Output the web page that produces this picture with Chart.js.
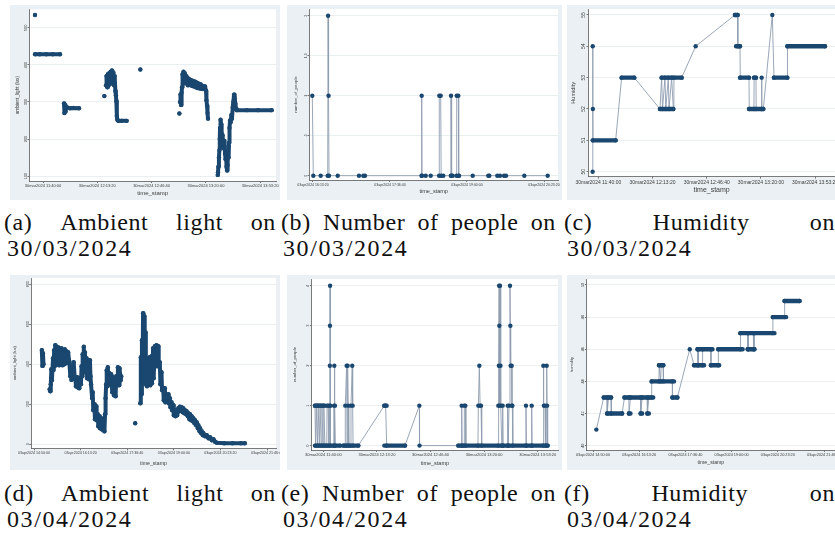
<!DOCTYPE html>
<html>
<head>
<meta charset="utf-8">
<script src="https://cdn.jsdelivr.net/npm/chart.js@4.4.0/dist/chart.umd.min.js"></script>
<style>
  html, body { margin: 0; padding: 0; background: #fff; }
  #page { position: relative; width: 835px; height: 543px; overflow: hidden; }
  canvas { position: absolute; }
  .cap { position: absolute; display: flex; justify-content: space-between; white-space: nowrap;
         font-family: 'Liberation Serif', 'DejaVu Serif', serif; font-size: 24px; line-height: 26px;
         letter-spacing: 0.6px; color: #111; }
  .date { position: absolute; white-space: nowrap; letter-spacing: 1.6px;
          font-family: 'Liberation Serif', 'DejaVu Serif', serif; font-size: 24px; line-height: 26px; color: #111; }
</style>
</head>
<body>
<div id="page">
  <canvas id="pa" width="270" height="195" style="left:10px;top:5px"></canvas>
  <canvas id="pb" width="275" height="195" style="left:287px;top:5px"></canvas>
  <canvas id="pc" width="268" height="195" style="left:567px;top:5px"></canvas>
  <canvas id="pd" width="270" height="195" style="left:10px;top:275px"></canvas>
  <canvas id="pe" width="275" height="195" style="left:287px;top:275px"></canvas>
  <canvas id="pf" width="268" height="195" style="left:567px;top:275px"></canvas>

  <div class="cap" style="left:4px;top:209px;width:272px"><span>(a)</span><span>Ambient</span><span>light</span><span>on</span></div>
  <div class="date" style="left:7px;top:235px">30/03/2024</div>
  <div class="cap" style="left:281px;top:209px;width:275px"><span>(b)</span><span>Number</span><span>of</span><span>people</span><span>on</span></div>
  <div class="date" style="left:283px;top:235px">30/03/2024</div>
  <div class="cap" style="left:564px;top:209px;width:271px"><span>(c)</span><span>Humidity</span><span>on</span></div>
  <div class="date" style="left:567px;top:235px">30/03/2024</div>

  <div class="cap" style="left:4px;top:480px;width:272px"><span>(d)</span><span>Ambient</span><span>light</span><span>on</span></div>
  <div class="date" style="left:7px;top:506px">03/04/2024</div>
  <div class="cap" style="left:281px;top:480px;width:275px"><span>(e)</span><span>Number</span><span>of</span><span>people</span><span>on</span></div>
  <div class="date" style="left:283px;top:506px">03/04/2024</div>
  <div class="cap" style="left:564px;top:480px;width:271px"><span>(f)</span><span>Humidity</span><span>on</span></div>
  <div class="date" style="left:567px;top:506px">03/04/2024</div>
</div>
<script>
// ── Tick labels ──────────────────────────────────────────────────────────────
const ticksMar = ['11:40:00', '12:13:20', '12:46:40', '13:20:00', '13:53:20'];
const ticksAprB = ['16:13:20', '17:36:40', '19:00:00', '20:23:20'];
const ticksApr = ['14:50:00', '16:13:20', '17:36:40', '19:00:00', '20:23:20', '21:46:40'];
const yTicksA = [100, 200, 300, 400, 500];
const yTicksB = [0, 0.5, 1, 1.5, 2];
const yTicksC = [50, 51, 52, 53, 54, 55];
const yTicksD = [0, 200, 400, 600, 800];
const yTicksE = [0, 1, 2, 3, 4];
const yTicksF = [40, 42, 44, 46, 48, 50];

// ── (a) ambient light, 30 Mar (null = gap between bursts) ────────────────────
const lightA = [
  ['11:35:05', 535], ['11:35:06', null],
  ['11:35:07', 429], ['11:38:00', 429], ['11:42:00', 429], ['11:46:00', 429], ['11:50:26', 429], ['11:51:00', null],
  ['11:52:54', 296], ['11:53:10', 270], ['11:53:30', 292], ['11:53:50', 274], ['11:54:07', 284], ['11:54:32', 286],
  ['11:56:35', 283], ['11:58:37', 284], ['12:02:06', 283], ['12:03:00', null],
  ['12:17:40', 316], ['12:18:00', null],
  ['12:18:41', 345], ['12:19:00', 370], ['12:19:30', 340], ['12:19:50', 375], ['12:20:19', 345], ['12:20:40', 378],
  ['12:21:08', 350], ['12:21:30', 382], ['12:21:57', 355], ['12:22:20', 385], ['12:22:46', 350], ['12:23:10', 380],
  ['12:23:36', 345], ['12:24:00', 370], ['12:24:25', 330], ['12:24:45', 318], ['12:25:02', 302], ['12:25:20', 262],
  ['12:25:38', 252], ['12:26:15', 249], ['12:28:18', 249], ['12:31:22', 249], ['12:32:00', null],
  ['12:39:46', 388], ['12:40:00', null],
  ['13:03:43', 269], ['13:03:55', null],
  ['13:04:07', 300], ['13:04:25', 320], ['13:04:44', 292], ['13:05:05', 325], ['13:05:21', 340], ['13:05:40', 375],
  ['13:05:58', 350], ['13:06:15', 382], ['13:06:35', 360], ['13:07:00', 378], ['13:07:12', 352], ['13:07:48', 370],
  ['13:08:10', 350], ['13:08:37', 365], ['13:09:00', 345], ['13:09:26', 362], ['13:09:50', 348], ['13:10:15', 360],
  ['13:10:45', 345], ['13:11:17', 358], ['13:11:45', 343], ['13:12:18', 356], ['13:12:50', 342], ['13:13:20', 355],
  ['13:13:50', 340], ['13:14:21', 352], ['13:14:50', 338], ['13:15:22', 350], ['13:15:50', 337], ['13:16:24', 348],
  ['13:16:55', 336], ['13:17:25', 345], ['13:17:55', 335], ['13:18:26', 343], ['13:19:00', 337], ['13:19:28', 342],
  ['13:20:05', 330], ['13:20:20', 305], ['13:20:42', 290], ['13:21:00', 270], ['13:21:18', 255], ['13:22:00', null],
  ['13:27:15', 103], ['13:27:25', 110], ['13:27:40', 125], ['13:28:00', 150], ['13:28:17', 170], ['13:28:30', 200],
  ['13:28:41', 230], ['13:29:00', 252], ['13:29:18', 240], ['13:29:40', 215], ['13:29:55', 200], ['13:30:15', 210],
  ['13:30:32', 190], ['13:30:50', 175], ['13:31:08', 195], ['13:31:30', 180], ['13:31:45', 160], ['13:32:05', 145],
  ['13:32:22', 160], ['13:32:40', 125], ['13:32:59', 115], ['13:33:20', 130], ['13:33:36', 165], ['13:33:55', 150],
  ['13:34:13', 190], ['13:34:30', 230], ['13:34:49', 250], ['13:35:10', 245], ['13:35:39', 265], ['13:36:00', 255],
  ['13:36:28', 285], ['13:36:50', 300], ['13:37:17', 320], ['13:37:40', 310], ['13:38:06', 295], ['13:38:30', 282],
  ['13:38:55', 278], ['13:45:00', 278], ['13:52:00', 278], ['14:00:24', 278]
];

// ── (b) number of people ─────────────────────────────────────────────────────
const peopleB = [
  ['16:12:35', 1], ['16:13:40', 0], ['16:21:40', 0], ['16:29:15', 0], ['16:29:40', 2], ['16:30:10', 1], ['16:30:40', 0],
  ['16:40:05', 0], ['17:03:07', 0], ['17:07:48', 0], ['17:09:37', 0], ['18:10:45', 0], ['18:10:58', 1], ['18:11:20', 0],
  ['18:15:18', 0], ['18:20:43', 0], ['18:29:50', 0], ['18:30:01', 1], ['18:31:32', 1], ['18:32:00', 0], ['18:34:21', 0],
  ['18:42:30', 0], ['18:42:42', 1], ['18:43:20', 0], ['18:44:31', 0], ['18:48:40', 0], ['18:48:51', 1], ['18:50:35', 1],
  ['18:51:00', 0], ['18:51:21', 0], ['19:06:10', 0], ['19:23:04', 0], ['19:24:09', 0], ['19:32:48', 0], ['19:35:43', 0],
  ['19:40:03', 0], ['19:42:12', 0], ['20:02:02', 0], ['20:27:19', 0]
];

// ── (c) humidity, 30 Mar: readings + dense runs [start, end, value] ──────────
const humidC = [
  ['11:36:31', 50], ['11:36:35', 54], ['11:36:40', 52], ['11:36:45', 51], ['11:50:40', 51], ['11:54:21', 53],
  ['12:02:08', 53], ['12:17:56', 52], ['12:18:57', 53], ['12:19:30', 52], ['12:21:00', 53], ['12:21:30', 52],
  ['12:23:03', 53], ['12:23:30', 52], ['12:25:06', 53], ['12:26:08', 52], ['12:26:30', 53], ['12:31:15', 53],
  ['12:39:52', 54], ['13:04:03', 55], ['13:05:41', 55], ['13:05:50', 54], ['13:07:08', 54], ['13:07:20', 53],
  ['13:12:40', 53], ['13:12:50', 52], ['13:15:44', 52], ['13:15:50', 53], ['13:16:58', 53], ['13:17:05', 52],
  ['13:20:10', 52], ['13:20:27', 53], ['13:20:35', 52], ['13:21:29', 52], ['13:27:01', 55], ['13:28:02', 53],
  ['13:36:14', 53], ['13:36:20', 54], ['13:59:24', 54]
];
const humidC_runs = [
  ['11:36:31', '11:50:40', 51], ['11:54:21', '12:02:08', 53], ['12:17:56', '12:26:08', 52], ['12:18:57', '12:31:15', 53],
  ['13:04:03', '13:05:41', 55], ['13:04:40', '13:07:08', 54], ['13:07:08', '13:12:40', 53], ['13:12:40', '13:21:29', 52],
  ['13:15:44', '13:16:58', 53], ['13:28:02', '13:36:14', 53], ['13:36:14', '13:59:24', 54]
];

// ── (d) ambient light, 03 Apr ────────────────────────────────────────────────
const lightD = [
  ['15:04', 471], ['15:05', 392], ['15:06', 455], ['15:07', 400], ['15:10', null],
  ['15:18', 275], ['15:19', 265], ['15:20', 300], ['15:21', 375], ['15:22', 320], ['15:24', 430], ['15:25', 372],
  ['15:26', 470], ['15:27', 390], ['15:28', 495], ['15:29', 410], ['15:30', 480], ['15:32', 400], ['15:33', 485],
  ['15:35', 395], ['15:36', 475], ['15:38', 405], ['15:39', 480], ['15:41', 395], ['15:42', 470], ['15:44', 400],
  ['15:45', 475], ['15:47', 405], ['15:48', 465], ['15:50', 420], ['15:51', 460], ['15:53', 415],
  ['15:55', 340], ['15:56', 370], ['15:57', 322], ['15:59', 395], ['16:00', 335], ['16:01', 410], ['16:03', 325],
  ['16:04', 330], ['16:05', 290], ['16:07', 335], ['16:08', 285], ['16:10', 330], ['16:11', 280], ['16:13', 320],
  ['16:14', 300], ['16:15', 390], ['16:16', 340], ['16:17', 450], ['16:18', 380], ['16:19', 488], ['16:20', 400],
  ['16:21', 460], ['16:22', 360], ['16:24', 430], ['16:25', 330], ['16:27', 410], ['16:28', 325], ['16:30', 420],
  ['16:31', 340], ['16:32', 300], ['16:34', 230], ['16:35', 260], ['16:36', 170], ['16:38', 200], ['16:39', 125],
  ['16:41', 190], ['16:42', 120], ['16:44', 150], ['16:45', 90], ['16:47', 140], ['16:48', 80], ['16:50', 130],
  ['16:51', 75], ['16:53', 120], ['16:54', 70], ['16:56', 65], ['16:57', 150], ['16:58', 230], ['16:59', 300],
  ['17:00', 370], ['17:01', 290], ['17:02', 385], ['17:04', 300], ['17:05', 355], ['17:07', 300], ['17:08', 350],
  ['17:10', 260], ['17:11', 335], ['17:13', 245], ['17:14', 320], ['17:16', 240], ['17:17', 340], ['17:19', 300],
  ['17:20', 385], ['17:22', 295], ['17:23', 380], ['17:25', 320], ['17:26', 340], ['17:35', null],
  ['17:51', 105], ['17:55', null],
  ['18:00', 205], ['18:01', 435], ['18:02', 250], ['18:03', 520], ['18:04', 330], ['18:05', 655], ['18:06', 380],
  ['18:07', 640], ['18:08', 450], ['18:09', 560], ['18:10', 300], ['18:11', 430], ['18:12', 290], ['18:14', 420],
  ['18:15', 300], ['18:17', 435], ['18:18', 295], ['18:20', 440], ['18:21', 305], ['18:23', 480], ['18:24', 330],
  ['18:26', 490], ['18:27', 395], ['18:29', 495], ['18:30', 390], ['18:32', 490], ['18:33', 400], ['18:35', 410],
  ['18:36', 300], ['18:38', 360], ['18:39', 270], ['18:41', 280], ['18:42', 220], ['18:44', 280], ['18:45', 210],
  ['18:47', 240], ['18:48', 215], ['18:50', 250], ['18:51', 205], ['18:53', 230], ['18:54', 185], ['18:56', 210],
  ['18:57', 170], ['18:59', 195], ['19:00', 145], ['19:02', 170], ['19:03', 140], ['19:05', 165], ['19:06', 145],
  ['19:08', 180], ['19:10', 165], ['19:11', 188], ['19:13', 168], ['19:14', 185], ['19:16', 160], ['19:17', 180],
  ['19:19', 155], ['19:20', 170], ['19:22', 150], ['19:23', 165], ['19:25', 140], ['19:26', 155], ['19:28', 125],
  ['19:29', 150], ['19:31', 120], ['19:32', 140], ['19:34', 115], ['19:35', 130], ['19:37', 105], ['19:38', 120],
  ['19:40', 95], ['19:41', 110], ['19:43', 80], ['19:44', 95], ['19:46', 65], ['19:47', 80], ['19:49', 55],
  ['19:50', 65], ['19:52', 45], ['19:53', 55], ['19:56', 40], ['19:59', 45], ['20:02', 30], ['20:05', 35],
  ['20:08', 20], ['20:11', 25], ['20:14', 12], ['20:17', 8], ['20:30', 5], ['20:45', 5], ['21:00', 5], ['21:07', 5]
];

// ── (e) number of people ─────────────────────────────────────────────────────
const peopleE = [
  ['11:34:49', 1], ['11:35:10', 0], ['11:35:40', 1], ['11:36:20', 0], ['11:36:50', 1], ['11:37:30', 0], ['11:38:00', 1],
  ['11:38:40', 0], ['11:39:10', 1], ['11:39:50', 0], ['11:40:20', 1], ['11:41:00', 0],
  ['11:42:10', 0], ['11:42:20', 1], ['11:43:00', 1], ['11:43:31', 0], ['11:44:00', 1], ['11:44:05', 2], ['11:44:09', 3],
  ['11:44:13', 4], ['11:44:20', 1], ['11:44:30', 0], ['11:46:30', 0], ['11:46:40', 1], ['11:46:51', 2], ['11:47:00', 0],
  ['11:47:15', 1], ['11:47:30', 0], ['11:50:22', 0], ['11:52:26', 0], ['11:53:30', 0], ['11:53:40', 1], ['11:54:31', 2],
  ['11:54:45', 0], ['11:55:08', 2], ['11:55:30', 1], ['11:55:50', 0], ['11:57:00', 0], ['11:57:13', 1], ['11:58:00', 2],
  ['11:58:15', 1], ['11:58:30', 0], ['12:01:46', 0],
  ['12:17:57', 1], ['12:18:47', 1], ['12:19:24', 0], ['12:30:48', 0], ['12:39:43', 1], ['12:39:50', 0],
  ['13:03:58', 0], ['13:05:50', 0], ['13:06:03', 1], ['13:06:20', 0], ['13:07:30', 0], ['13:07:42', 1], ['13:08:19', 1],
  ['13:08:40', 0], ['13:16:10', 0], ['13:16:25', 1], ['13:17:02', 2], ['13:17:30', 1], ['13:18:04', 1], ['13:18:30', 0],
  ['13:28:40', 0], ['13:28:51', 1], ['13:29:10', 2], ['13:29:20', 4], ['13:29:28', 3], ['13:29:40', 1], ['13:29:53', 4],
  ['13:30:10', 2], ['13:30:30', 1], ['13:31:00', 0], ['13:31:25', 0], ['13:31:33', 1], ['13:31:50', 0],
  ['13:34:30', 0], ['13:34:39', 1], ['13:35:00', 0], ['13:35:20', 0], ['13:35:29', 1], ['13:36:06', 4], ['13:36:20', 3],
  ['13:36:31', 2], ['13:37:09', 2], ['13:37:20', 1], ['13:37:33', 1], ['13:37:50', 0], ['13:45:50', 0], ['13:46:03', 1],
  ['13:46:20', 0], ['13:49:25', 0], ['13:49:35', 1], ['13:49:50', 0], ['13:56:40', 0], ['13:56:50', 2], ['13:57:10', 1],
  ['13:57:52', 1], ['13:58:10', 0], ['13:58:45', 0], ['13:58:55', 2], ['13:59:10', 1], ['13:59:30', 0]
];
const peopleE_runs = [
  ['11:34:49', '11:50:22', 0], ['11:52:26', '12:01:46', 0], ['12:17:57', '12:30:48', 0], ['13:03:58', '13:59:30', 0],
  ['11:34:49', '11:41:00', 1], ['12:17:57', '12:19:24', 1]
];

// ── (f) humidity, 03 Apr ─────────────────────────────────────────────────────
const humidF = [
  ['14:56:02', 41], ['15:09:19', 43], ['15:15:22', 43], ['15:15:40', 42], ['15:18:00', 43], ['15:22:36', 43],
  ['15:23:00', 42], ['15:42:32', 42], ['15:46:46', 43], ['15:54:37', 43], ['15:55:00', 42], ['15:57:38', 43],
  ['16:15:45', 43], ['16:16:10', 42], ['16:18:46', 43], ['16:27:49', 43], ['16:28:10', 42], ['16:30:50', 43],
  ['16:35:40', 43], ['16:35:50', 44], ['16:48:57', 44], ['16:49:20', 45], ['16:52:00', 44], ['16:53:00', 45],
  ['16:56:48', 45], ['16:57:00', 44], ['17:13:07', 44], ['17:13:20', 43], ['17:22:10', 43], ['17:44:30', 46],
  ['17:52:21', 45], ['17:58:24', 45], ['17:58:40', 46], ['17:59:36', 46], ['18:00:00', 45], ['18:07:27', 45],
  ['18:07:40', 46], ['18:22:33', 46], ['18:22:50', 45], ['18:35:50', 45], ['18:36:05', 46], ['19:15:41', 46],
  ['19:16:00', 47], ['19:28:58', 47], ['19:29:10', 46], ['19:30:11', 46], ['19:30:30', 47], ['19:39:14', 47],
  ['19:39:30', 46], ['19:41:03', 46], ['19:41:20', 47], ['20:14:15', 47], ['20:14:30', 48], ['20:35:24', 48],
  ['20:35:40', 49], ['21:02:34', 49]
];
const humidF_runs = [
  ['15:09:19', '15:22:36', 43], ['15:15:22', '15:42:32', 42], ['15:46:46', '16:38:41', 43], ['15:54:37', '15:57:38', 42],
  ['16:15:45', '16:18:46', 42], ['16:27:49', '16:30:50', 42], ['16:35:40', '17:16:08', 44], ['16:48:57', '16:56:48', 45],
  ['17:13:07', '17:22:10', 43], ['17:52:21', '18:10:28', 45], ['17:58:24', '18:25:34', 46], ['18:22:33', '18:37:38', 45],
  ['18:35:50', '19:19:55', 46], ['19:15:41', '20:17:17', 47], ['19:28:58', '19:41:03', 46], ['20:14:15', '20:38:25', 48],
  ['20:35:24', '21:02:34', 49]
];

// ── Style ────────────────────────────────────────────────────────────────────
const FONT = "'Liberation Sans', Arial, sans-serif";
const NAVY = '#1a476f';
const LINK = '#8e9db0';
const INK = '#3c3c3c';
const AXIS = '#5a5a5a';
const GRAPH_BG = '#eaf0f3';

// ── Helpers ──────────────────────────────────────────────────────────────────
function sec(s) {
  const p = s.split(':').map(Number);
  return p[0] * 3600 + p[1] * 60 + (p[2] || 0);
}
function hms(v) {
  const pad = n => String(n).padStart(2, '0');
  return pad(Math.floor(v / 3600)) + ':' + pad(Math.floor((v % 3600) / 60)) + ':' + pad(Math.round(v % 60));
}
const fmtY = v => String(v).replace(/^0\./, '.');
const toPts = pairs => pairs.map(([t, v]) => ({ x: sec(t), y: v }));
const runPts = runs => runs.flatMap(([s, e, v]) => [{ x: sec(s), y: v }, { x: sec(e), y: v }, { x: sec(e), y: null }]);

function scatterBand(pairs) {
  return { data: toPts(pairs), showLine: true, borderColor: NAVY, borderWidth: 4, borderCapStyle: 'round',
           borderJoinStyle: 'round', pointRadius: 2.2, pointBackgroundColor: NAVY, pointBorderWidth: 0 };
}
function trace(pairs) {
  return { data: toPts(pairs), showLine: true, borderColor: LINK, borderWidth: 0.9,
           pointRadius: 2.2, pointBackgroundColor: NAVY, pointBorderWidth: 0 };
}
function runBand(runs) {
  return { data: runPts(runs), showLine: true, borderColor: NAVY, borderWidth: 4.4, borderCapStyle: 'round', pointRadius: 0 };
}

// graph region grey, plot region white
const panelBg = {
  id: 'panelBg',
  beforeDraw(chart) {
    const { ctx, chartArea: a } = chart;
    ctx.save();
    ctx.fillStyle = GRAPH_BG;
    ctx.fillRect(0, 0, chart.width, chart.height);
    ctx.fillStyle = '#fff';
    ctx.fillRect(a.left, a.top, a.right - a.left, a.bottom - a.top);
    ctx.restore();
  }
};

// Stata prints y tick labels turned sideways
const rotatedYLabels = {
  id: 'rotatedYLabels',
  afterDraw(chart, args, o) {
    const s = chart.scales.y, ctx = chart.ctx;
    ctx.save();
    ctx.font = o.size + 'px ' + FONT;
    ctx.fillStyle = INK;
    ctx.textAlign = 'center';
    ctx.textBaseline = 'middle';
    s.ticks.forEach(t => {
      ctx.save();
      ctx.translate(s.right - o.offset, s.getPixelForValue(t.value));
      ctx.rotate(-Math.PI / 2);
      ctx.fillText(fmtY(t.value), 0, 0);
      ctx.restore();
    });
    ctx.restore();
  }
};

// g: canvas box + plot box (page px); f: font sizes / title offsets
function makePanel(id, g, f, cfg) {
  const [pl, pt, pr, pb] = g.plot;
  const yw = pl - g.left, xh = g.top + g.h - pb;
  new Chart(document.getElementById(id), {
    type: 'scatter',
    data: { datasets: cfg.datasets },
    options: {
      responsive: false,
      animation: false,
      events: [],
      layout: { autoPadding: false, padding: { top: pt - g.top, right: g.left + g.w - pr, left: 0, bottom: 0 } },
      plugins: { legend: { display: false }, tooltip: { enabled: false },
                 rotatedYLabels: { size: f.tick, offset: f.yLab } },
      scales: {
        x: {
          type: 'linear', bounds: 'data', min: sec(cfg.xMin), max: sec(cfg.xMax),
          afterBuildTicks: s => { s.ticks = cfg.xTicks.map(t => ({ value: sec(t) })); },
          afterFit: s => { s.height = xh; s.paddingLeft = 0; s.paddingRight = 0; },
          ticks: { callback: v => cfg.prefix + ' ' + hms(v), font: { size: f.tick, family: FONT }, color: INK,
                   padding: 0.5, maxRotation: 0, minRotation: 0, autoSkip: false },
          grid: { drawOnChartArea: false, drawTicks: true, tickLength: 2, tickColor: AXIS, tickWidth: 0.8 },
          border: { display: true, color: AXIS, width: 0.8 },
          title: { display: true, text: 'time_stamp', color: INK, font: { size: f.xt, family: FONT },
                   padding: { top: 0, bottom: f.xtB - 0.6 * f.xt } }
        },
        y: {
          type: 'linear', bounds: 'data', min: cfg.yMin, max: cfg.yMax,
          afterBuildTicks: s => { s.ticks = cfg.yTicks.map(v => ({ value: v })); },
          afterFit: s => { s.width = yw; s.paddingTop = 0; s.paddingBottom = 0; },
          ticks: { display: false },
          grid: { color: '#e4ebef', lineWidth: 0.8, drawTicks: true, tickLength: 1.8, tickColor: AXIS, tickWidth: 0.8 },
          border: { display: true, color: AXIS, width: 0.8 },
          title: { display: true, text: cfg.yTitle, color: INK, font: { size: f.yt, family: FONT },
                   padding: { top: f.ytL - 0.6 * f.yt, bottom: 0 } }
        }
      }
    },
    plugins: [panelBg, rotatedYLabels]
  });
}

makePanel('pa', { left: 10, top: 5, w: 270, h: 195, plot: [29.3, 9.3, 276, 181] },
  { tick: 4, xt: 6, xtB: 6.7, yt: 4.7, ytL: 7.3, yLab: 3.6 },
  { datasets: [scatterBand(lightA)], xTicks: ticksMar, prefix: '30mar2024', xMin: '11:31:35', xMax: '14:03:02',
    yTicks: yTicksA, yMin: 86.5, yMax: 550.5, yTitle: 'ambient_light (lux)' });

makePanel('pb', { left: 287, top: 5, w: 275, h: 195, plot: [309.3, 9, 558, 180] },
  { tick: 3.5, xt: 5.5, xtB: 8.3, yt: 4.4, ytL: 9, yLab: 3.4 },
  { datasets: [trace(peopleB)], xTicks: ticksAprB, prefix: '03apr2024', xMin: '16:09:20', xMax: '20:38:29',
    yTicks: yTicksB, yMin: -0.054, yMax: 2.084, yTitle: 'number_of_people' });

makePanel('pc', { left: 567, top: 5, w: 268, h: 195, plot: [588.3, 9, 835, 176.7] },
  { tick: 5, xt: 7, xtB: 10, yt: 5.6, ytL: 6.3, yLab: 4.2 },
  { datasets: [runBand(humidC_runs), trace(humidC)], xTicks: ticksMar, prefix: '30mar2024', xMin: '11:33:51', xMax: '14:05:34',
    yTicks: yTicksC, yMin: 49.84, yMax: 55.19, yTitle: 'Humidity' });

makePanel('pd', { left: 10, top: 275, w: 270, h: 195, plot: [31, 278, 276, 448.3] },
  { tick: 3.6, xt: 5.2, xtB: 6.7, yt: 4.2, ytL: 4.5, yLab: 3.4 },
  { datasets: [scatterBand(lightD)], xTicks: ticksApr, prefix: '03apr2024', xMin: '14:44:38', xMax: '22:02:45',
    yTicks: yTicksD, yMin: -20, yMax: 831.5, yTitle: 'ambient_light (lux)' });

makePanel('pe', { left: 287, top: 275, w: 275, h: 195, plot: [311.7, 279, 558, 450] },
  { tick: 4, xt: 5.5, xtB: 6.7, yt: 4.2, ytL: 8, yLab: 3.6 },
  { datasets: [runBand(peopleE_runs), trace(peopleE)], xTicks: ticksMar, prefix: '30mar2024', xMin: '11:32:47', xMax: '14:05:57',
    yTicks: yTicksE, yMin: -0.11, yMax: 4.17, yTitle: 'number_of_people' });

makePanel('pf', { left: 567, top: 275, w: 268, h: 195, plot: [586.7, 279, 835, 450] },
  { tick: 3.8, xt: 5.2, xtB: 7.3, yt: 4, ytL: 4.7, yLab: 3.5 },
  { datasets: [runBand(humidF_runs), trace(humidF)], xTicks: ticksApr, prefix: '03apr2024', xMin: '14:38:38', xMax: '22:06:30',
    yTicks: yTicksF, yMin: 39.73, yMax: 50.37, yTitle: 'humidity' });
</script>
</body>
</html>
